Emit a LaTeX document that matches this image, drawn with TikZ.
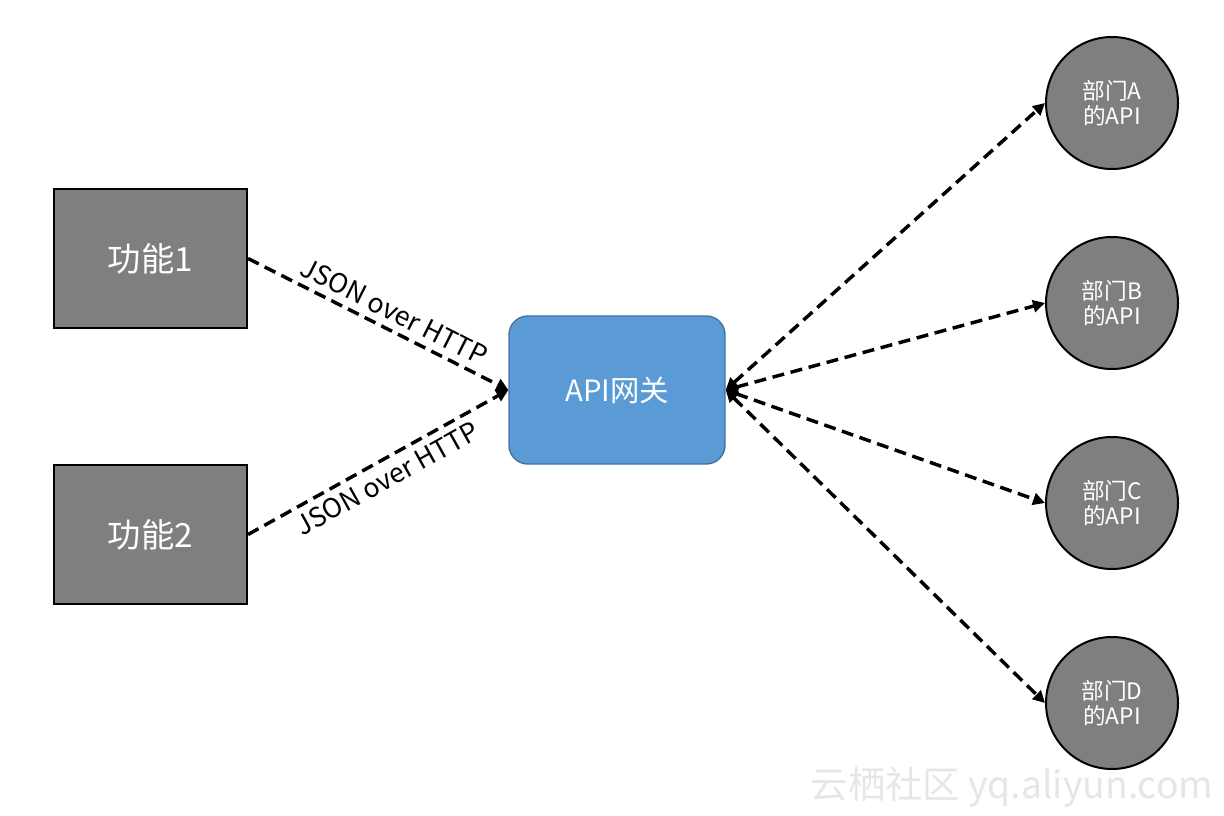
\documentclass[tikz,border=0pt]{standalone}
\usepackage{fontspec}
\setmainfont{Noto Sans CJK SC}
\usepackage{tikz}
\usetikzlibrary{arrows.meta,positioning,shapes.geometric}
\definecolor{boxgray}{RGB}{127,127,127}
\definecolor{gwblue}{RGB}{91,155,213}
\definecolor{gwedge}{RGB}{65,113,156}
\definecolor{wmgray}{RGB}{230,230,230}

\begin{document}
\begin{tikzpicture}[x=0.75pt,y=-0.75pt,
  funcbox/.style={draw=black,line width=1.5pt,fill=boxgray,minimum width=193*0.75pt,minimum height=139*0.75pt,inner sep=0pt,text=white,font=\fontsize{25}{30}\selectfont},
  gateway/.style={draw=gwedge,line width=1pt,fill=gwblue,rounded corners=14pt,minimum width=216*0.75pt,minimum height=148*0.75pt,inner sep=0pt,text=white,font=\fontsize{22}{26}\selectfont},
  dept/.style={circle,draw=black,line width=1.5pt,fill=boxgray,minimum size=132*0.75pt,inner sep=0pt,text=white,align=center,font=\fontsize{17}{19}\selectfont},
  link/.style={line width=2.6pt,dash pattern=on 9pt off 5pt,-{Triangle[length=9pt,width=9pt]}},
  twoway/.style={link,{Triangle[length=9pt,width=9pt]}-{Triangle[length=9pt,width=9pt]}},
  lbl/.style={font=\fontsize{20}{24}\selectfont,sloped,inner sep=5pt}]
\useasboundingbox (0,0) rectangle (1224,816);
\node[funcbox] (f1) at (150.5,258.5) {功能1};
\node[funcbox] (f2) at (150.5,534.5) {功能2};
\node[gateway] (gw) at (617,390) {API网关};
\node[dept] (da) at (1112,103) {部门A\\的API};
\node[dept] (db) at (1112,303) {部门B\\的API};
\node[dept] (dc) at (1112,503) {部门C\\的API};
\node[dept] (dd) at (1112,703) {部门D\\的API};
% left side requests
\draw[link] (f1.east) -- (gw.west) node[lbl,pos=0.53,above] {JSON over HTTP};
\draw[link] (f2.east) -- (gw.west) node[lbl,pos=0.5,below] {JSON over HTTP};
% right side fan out
\foreach \d in {da,db,dc,dd}
  \draw[twoway] (gw.east) -- (\d.west);
\node[text=wmgray,font=\fontsize{28}{32}\selectfont] (wm) at (1012,787) {云栖社区 yq.aliyun.com};
\end{tikzpicture}
\end{document}
